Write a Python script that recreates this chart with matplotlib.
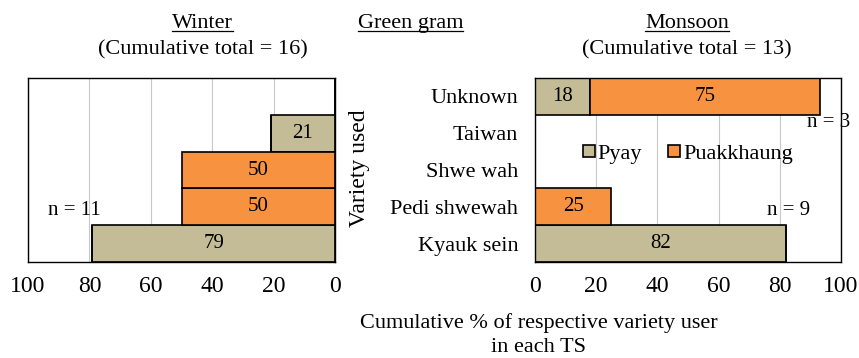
import matplotlib
matplotlib.use("Agg")
import matplotlib.pyplot as plt
from matplotlib.lines import Line2D

plt.rcParams['font.family'] = ['Liberation Serif', 'DejaVu Serif']

varieties = ['Kyauk sein', 'Pedi shwewah', 'Shwe wah', 'Taiwan', 'Unknown']
# winter season (% of users)
winter_pyay = [79, 0, 0, 21, 0]
winter_puak = [0, 50, 50, 0, 0]
# monsoon season
monsoon_pyay = [82, 0, 0, 0, 18]
monsoon_puak = [0, 25, 0, 0, 75]

PYAY_C = '#C4BC96'
PUAK_C = '#F79240'

fig = plt.figure(figsize=(8.59, 3.58), dpi=100)
axL = fig.add_axes([0.0326, 0.268, 0.3574, 0.514])
axR = fig.add_axes([0.6228, 0.268, 0.3562, 0.514])

ypos = list(range(len(varieties)))


def draw_panel(ax, pyay, puak):
    ax.barh(ypos, pyay, height=1.0, color=PYAY_C, edgecolor='black', linewidth=1.2, zorder=2)
    ax.barh(ypos, puak, left=pyay, height=1.0, color=PUAK_C, edgecolor='black', linewidth=1.2, zorder=2)
    for y, a, b in zip(ypos, pyay, puak):
        if a > 0:
            ax.text(a / 2, y, str(a), ha='center', va='center', fontsize=15, zorder=3)
        if b > 0:
            ax.text(a + b / 2, y, str(b), ha='center', va='center', fontsize=15, zorder=3)
    ax.set_ylim(-0.5, len(varieties) - 0.5)
    ax.set_xticks([0, 20, 40, 60, 80, 100])
    ax.grid(axis='x', color='#c8c8c8', linewidth=0.8, zorder=0)
    ax.tick_params(axis='x', length=0, labelsize=17, pad=10)
    ax.tick_params(axis='y', length=0)
    for s in ax.spines.values():
        s.set_linewidth(1.0)


draw_panel(axL, winter_pyay, winter_puak)
axL.set_xlim(100, 0)
axL.set_yticks([])

draw_panel(axR, monsoon_pyay, monsoon_puak)
axR.set_xlim(0, 100)
axR.set_yticks(ypos)
axR.set_yticklabels(varieties, fontsize=16)
axR.tick_params(axis='y', pad=12)

# n annotations
axL.text(85, 0.9, 'n = 11', ha='center', va='center', fontsize=15)
axR.text(83, 0.9, 'n = 9', ha='center', va='center', fontsize=15)
axR.text(96, 3.3, 'n = 3', ha='center', va='center', fontsize=15, clip_on=False)

# legend
handles = [Line2D([], [], marker='s', linestyle='none', markersize=8, markerfacecolor=PYAY_C,
                  markeredgecolor='black', markeredgewidth=1.2),
           Line2D([], [], marker='s', linestyle='none', markersize=8, markerfacecolor=PUAK_C,
                  markeredgecolor='black', markeredgewidth=1.2)]
axR.legend(handles, ['Pyay', 'Puakkhaung'], loc='center', bbox_to_anchor=(0.5, 0.59),
           ncol=2, frameon=False, fontsize=16, handlelength=0.5, handletextpad=0.15,
           columnspacing=1.2, borderpad=0)

fig.text(0.419, 0.53, 'Variety used', rotation=90, ha='center', va='center', fontsize=17)

# titles
t1 = fig.text(0.236, 0.935, 'Winter', ha='center', va='center', fontsize=16)
fig.text(0.236, 0.86, '(Cumulative total = 16)', ha='center', va='center', fontsize=16)
t2 = fig.text(0.478, 0.935, 'Green gram', ha='center', va='center', fontsize=16)
t3 = fig.text(0.80, 0.935, 'Monsoon', ha='center', va='center', fontsize=16)
fig.text(0.80, 0.86, '(Cumulative total = 13)', ha='center', va='center', fontsize=16)

fig.text(0.627, 0.098, 'Cumulative % of respective variety user', ha='center', va='center', fontsize=16)
fig.text(0.627, 0.028, 'in each TS', ha='center', va='center', fontsize=16)

# underline the headings
fig.canvas.draw()
r = fig.canvas.get_renderer()
for t in (t1, t2, t3):
    bb = t.get_window_extent(renderer=r).transformed(fig.transFigure.inverted())
    fig.add_artist(Line2D([bb.x0, bb.x1], [bb.y0 + 0.006, bb.y0 + 0.006],
                          transform=fig.transFigure, color='black', linewidth=0.9))

fig.savefig('out.png', dpi=100)
